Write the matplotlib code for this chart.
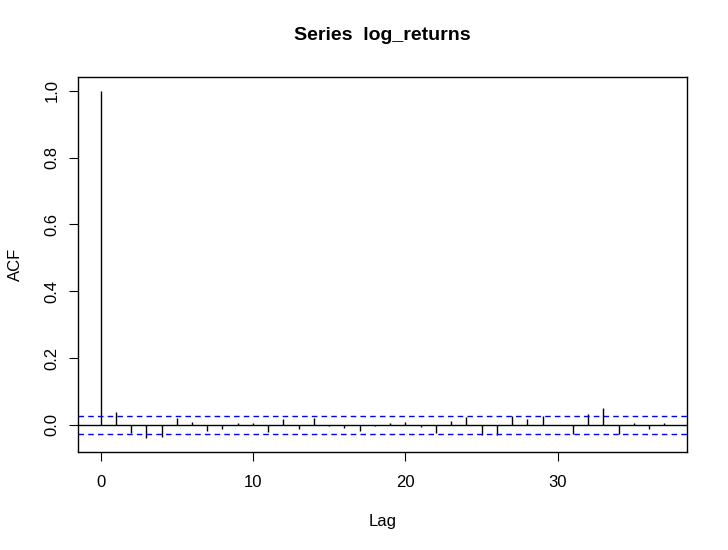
import numpy as np
import matplotlib
matplotlib.use("Agg")
import matplotlib.pyplot as plt

lags = list(range(38))
acf_vals = [1.000, 0.037, -0.026, -0.040, -0.037, 0.019, 0.007, -0.019,
            -0.013, 0.004, 0.004, -0.022, 0.016, -0.013, 0.019, -0.005,
            -0.009, -0.020, -0.005, 0.004, 0.007, -0.008, -0.026, 0.010,
            0.022, -0.032, -0.032, 0.027, 0.016, 0.027, -0.001, -0.027,
            0.031, 0.049, -0.027, 0.004, -0.013, 0.004]
conf_limit = 0.0271
x_ticks = [0, 10, 20, 30]
y_ticks = [0.0, 0.2, 0.4, 0.6, 0.8, 1.0]

plt.rcParams['font.family'] = ['Liberation Sans', 'DejaVu Sans']

fig = plt.figure(figsize=(7.28, 5.5), dpi=100)
ax = fig.add_axes([78/728, 1 - 452/550, (687-78)/728, (452-77)/550])

ax.vlines(lags, 0, acf_vals, colors='black', linewidth=1.0)
ax.axhline(0, color='black', linewidth=1.0)
for c in (conf_limit, -conf_limit):
    ax.axhline(c, color='#0000FF', linewidth=1.0, linestyle=(0, (4, 3)))

# R style 4% padding
lo = min(min(acf_vals), -conf_limit)
hi = max(max(acf_vals), conf_limit)
r = hi - lo
ax.set_ylim(lo - 0.04*r, hi + 0.04*r)
xr = lags[-1] - lags[0]
ax.set_xlim(lags[0] - 0.04*xr, lags[-1] + 0.04*xr)

ax.set_xticks(x_ticks)
ax.set_yticks(y_ticks)
ax.set_yticklabels([f"{v:.1f}" for v in y_ticks], rotation=90, va='center')
ax.tick_params(direction='out', length=6.5, width=0.8, labelsize=12,
               colors='black')
ax.tick_params(axis='x', pad=10)
ax.tick_params(axis='y', pad=7)
for s in ax.spines.values():
    s.set_linewidth(1.0)

ax.set_xlabel("Lag", fontsize=12, labelpad=17.5)
ax.set_ylabel("ACF", fontsize=12, labelpad=15)
ax.set_title("Series  log_returns", fontsize=14, fontweight='bold', pad=27)

fig.savefig("out.png", dpi=100)
